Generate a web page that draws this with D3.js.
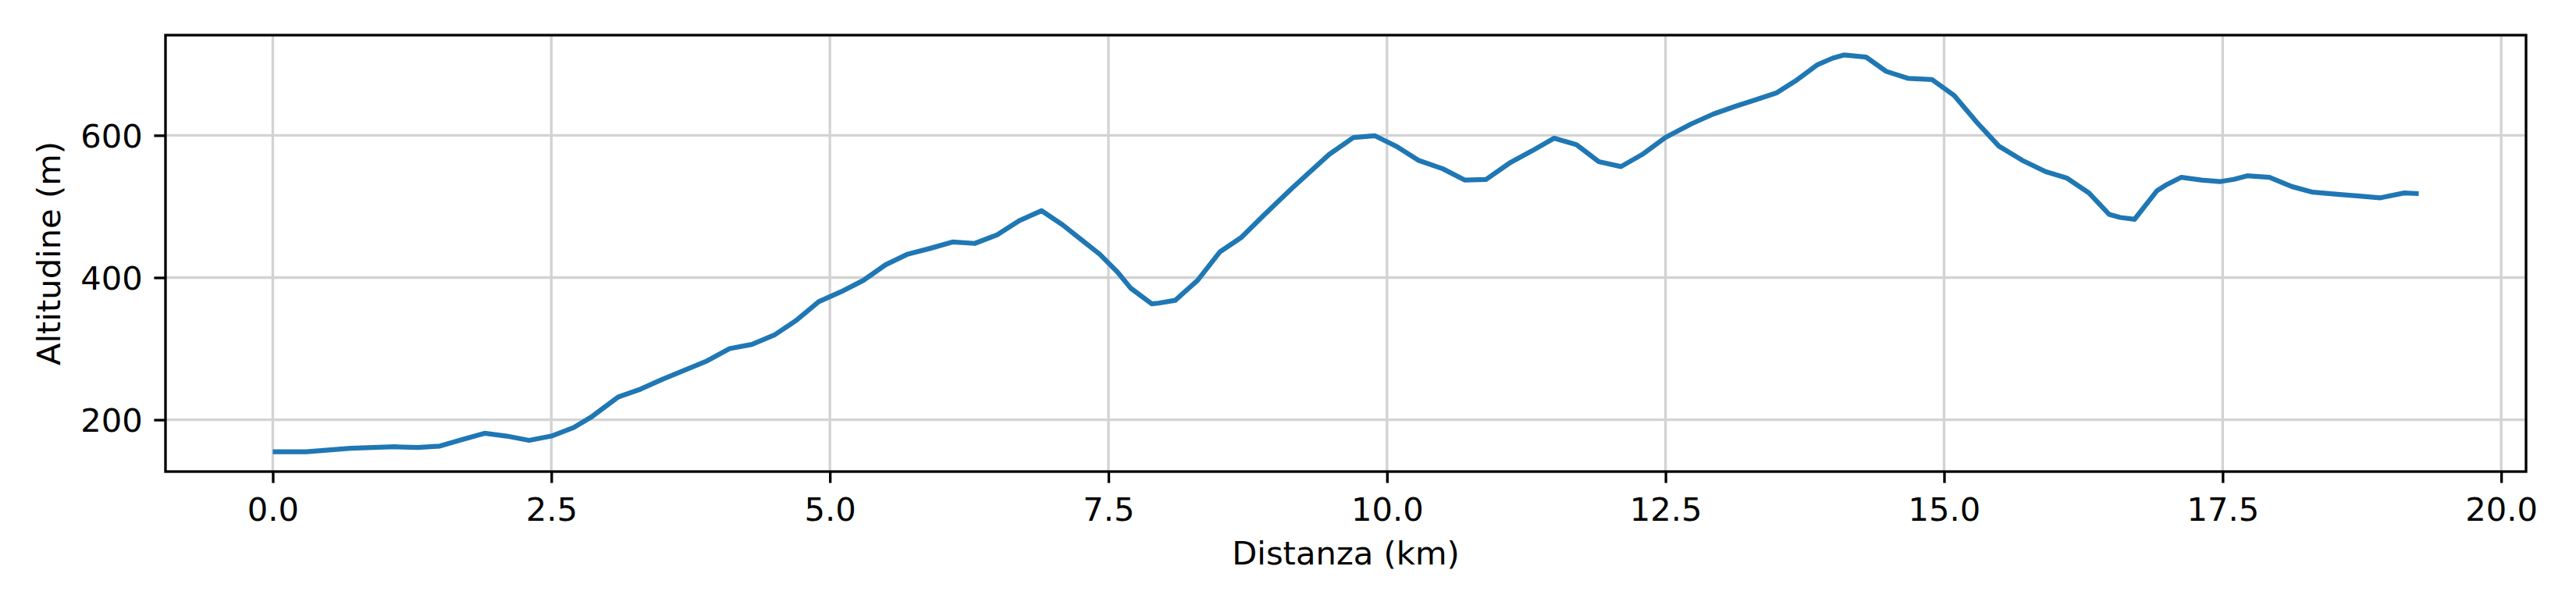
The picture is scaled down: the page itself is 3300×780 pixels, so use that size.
<!DOCTYPE html>
<html>
<head>
<meta charset="utf-8">
<script src="https://cdn.jsdelivr.net/npm/d3@7"></script>
<style>
  html, body { margin: 0; padding: 0; background: #fff; }
  svg { display: block; font-family: "DejaVu Sans", sans-serif; }
</style>
</head>
<body>
<div id="chart"></div>
<script>
// profilo altimetrico: distanza (km) e altitudine (m)
const distanza = [0, 0.3, 0.5, 0.7, 1.1, 1.3, 1.5, 1.7, 1.9, 2.1, 2.3, 2.5, 2.7, 2.86, 3.1, 3.3, 3.5, 3.7, 3.9, 4.1,
  4.3, 4.5, 4.7, 4.9, 5.1, 5.3, 5.5, 5.7, 5.9, 6.1, 6.3, 6.5, 6.7, 6.9, 7.09, 7.25, 7.42, 7.58, 7.7, 7.89,
  7.95, 8.1, 8.3, 8.5, 8.69, 8.89, 9.15, 9.48, 9.7, 9.89, 10.09, 10.28, 10.5, 10.7, 10.89, 11.11, 11.3, 11.5, 11.7, 11.9,
  12.1, 12.29, 12.5, 12.73, 12.93, 13.13, 13.31, 13.5, 13.68, 13.86, 14.0, 14.1, 14.3, 14.48, 14.68, 14.89, 15.09, 15.29, 15.49, 15.7,
  15.91, 16.1, 16.3, 16.48, 16.58, 16.71, 16.91, 16.99, 17.13, 17.31, 17.48, 17.6, 17.72, 17.92, 18.12, 18.31, 18.53, 18.73, 18.91, 19.13,
  19.26];
const altitudine = [155, 155, 157.5, 160, 162, 161, 163, 172, 181, 177, 171, 177, 189, 204, 232, 243, 257, 270, 283, 300,
  306, 319, 340, 366, 380, 396, 418, 433, 441, 450, 448, 460, 480, 494, 474, 454, 433, 408, 385, 363,
  364, 368, 396, 436, 456, 487, 526, 573, 597, 599.5, 584, 565, 553, 537, 538, 562, 578, 596, 587, 563,
  556, 573, 597, 616, 630, 641, 650, 660, 678, 699, 708.5, 713, 710, 690, 680, 678.5, 656, 619, 585, 565,
  549, 540, 519, 489, 484.5, 482, 522, 530, 541, 537, 535, 538, 543, 541, 528, 520, 517, 514.5, 512, 519,
  518];
const xTicks = [0, 2.5, 5, 7.5, 10, 12.5, 15, 17.5, 20];
const yTicks = [200, 400, 600];
const xLabel = "Distanza (km)";
const yLabel = "Altitudine (m)";

const W = 3300, H = 780;
const m = { left: 212, right: 64, top: 45, bottom: 176 };
const fs = 41.67;       // 10pt @ 300dpi
const pt = 300 / 72;

const data = distanza.map((d, i) => ({ x: d, y: altitudine[i] }));

// margini 5% come matplotlib
function pad(ext) {
  const r = ext[1] - ext[0];
  return [ext[0] - r * 0.05, ext[1] + r * 0.05];
}

const x = d3.scaleLinear().domain(pad(d3.extent(distanza))).range([m.left, W - m.right]);
const y = d3.scaleLinear().domain(pad(d3.extent(altitudine))).range([H - m.bottom, m.top]);

const svg = d3.select("#chart").append("svg")
  .attr("width", W).attr("height", H);

// griglia
svg.append("g").selectAll("line.gx")
  .data(xTicks).enter().append("line")
  .attr("x1", d => x(d)).attr("x2", d => x(d))
  .attr("y1", m.top).attr("y2", H - m.bottom)
  .attr("stroke", "#d3d3d3").attr("stroke-width", 0.8 * pt);

svg.append("g").selectAll("line.gy")
  .data(yTicks).enter().append("line")
  .attr("x1", m.left).attr("x2", W - m.right)
  .attr("y1", d => y(d)).attr("y2", d => y(d))
  .attr("stroke", "#d3d3d3").attr("stroke-width", 0.8 * pt);

// linea
const line = d3.line().x(d => x(d.x)).y(d => y(d.y));
svg.append("path")
  .datum(data)
  .attr("d", line)
  .attr("fill", "none")
  .attr("stroke", "#1f77b4")
  .attr("stroke-width", 1.5 * pt)
  .attr("stroke-linejoin", "round")
  .attr("stroke-linecap", "butt");

// assi
const xAxis = svg.append("g")
  .attr("transform", `translate(0,${H - m.bottom})`)
  .call(d3.axisBottom(x).tickValues(xTicks).tickFormat(d3.format(".1f"))
    .tickSize(3.5 * pt).tickPadding(3.5 * pt).tickSizeOuter(0));

const yAxis = svg.append("g")
  .attr("transform", `translate(${m.left},0)`)
  .call(d3.axisLeft(y).tickValues(yTicks).tickFormat(d3.format("d"))
    .tickSize(3.5 * pt).tickPadding(3.5 * pt).tickSizeOuter(0));

[xAxis, yAxis].forEach(g => {
  g.select(".domain").remove();
  g.selectAll(".tick line").attr("stroke", "#000").attr("stroke-width", 0.8 * pt);
  g.selectAll(".tick text")
    .attr("fill", "#000")
    .style("font-size", fs + "px")
    .style("font-family", "DejaVu Sans");
});
xAxis.selectAll(".tick text").attr("dy", "0.8em");
yAxis.selectAll(".tick text").attr("dy", "0.36em");

// cornice
svg.append("rect")
  .attr("x", m.left).attr("y", m.top)
  .attr("width", W - m.right - m.left)
  .attr("height", H - m.bottom - m.top)
  .attr("fill", "none")
  .attr("stroke", "#000")
  .attr("stroke-width", 0.8 * pt);

// etichette
svg.append("text")
  .attr("x", (m.left + W - m.right) / 2)
  .attr("y", 723)
  .attr("text-anchor", "middle")
  .style("font-size", fs + "px")
  .text(xLabel);

svg.append("text")
  .attr("transform", `translate(77,${(m.top + H - m.bottom) / 2}) rotate(-90)`)
  .attr("text-anchor", "middle")
  .style("font-size", fs + "px")
  .text(yLabel);
</script>
</body>
</html>
